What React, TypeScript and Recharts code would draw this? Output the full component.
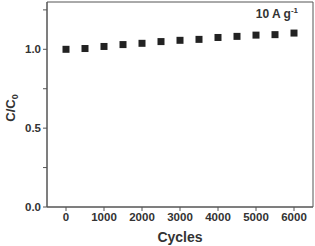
import { ScatterChart, Scatter, XAxis, YAxis, ReferenceArea, Customized } from 'recharts'

const cycles = [0, 500, 1000, 1500, 2000, 2500, 3000, 3500, 4000, 4500, 5000, 5500, 6000]
const retention = [1.0, 1.005, 1.018, 1.03, 1.038, 1.049, 1.057, 1.063, 1.075, 1.082, 1.09, 1.093, 1.103]
const xTicks = [0, 1000, 2000, 3000, 4000, 5000, 6000]
const yTicks = [0, 0.25, 0.5, 0.75, 1.0, 1.25]
const currentLabel = '10 A g'

const data = cycles.map((c, i) => ({ c, r: retention[i] }))

const font = 'Arial, "Liberation Sans", sans-serif'
const ink = '#333'
const axisColor = '#555'

const YTick = (props: any) => {
  const { x, y, payload } = props
  const v = payload.value
  if (Math.abs((v * 2) % 1) > 0.01) return null
  return (
    <text x={x} y={y} dy={4} textAnchor="end" fontFamily={font} fontWeight="bold" fontSize={11.5} fill={ink}>
      {v.toFixed(1)}
    </text>
  )
}

const Square = (props: any) => {
  const { cx, cy } = props
  return <rect x={cx - 3.5} y={cy - 3.5} width={7} height={7} fill="#222" />
}

export default function App() {
  return (
    <div style={{ position: 'absolute', left: 0, top: 0, width: 315, height: 246, background: '#fff' }}>
      <ScatterChart width={315} height={246} margin={{ top: 2, right: 2, bottom: 0, left: 0 }}>
        <XAxis
          type="number"
          dataKey="c"
          domain={[-500, 6500]}
          ticks={xTicks}
          height={39}
          tick={{ fontFamily: font, fontWeight: 'bold', fontSize: 11.5, fill: ink }}
          tickSize={4}
          axisLine={{ stroke: axisColor }}
          tickLine={{ stroke: axisColor }}
          label={{
            value: 'Cycles',
            position: 'insideBottom',
            offset: 4,
            style: { fontFamily: font, fontWeight: 'bold', fontSize: 14, fill: ink },
          }}
        />
        <YAxis
          type="number"
          dataKey="r"
          domain={[0, 1.3]}
          ticks={yTicks}
          width={47}
          tick={<YTick />}
          tickSize={4}
          axisLine={{ stroke: axisColor }}
          tickLine={{ stroke: axisColor }}
          label={{
            content: () => (
              <text
                x={15}
                y={108}
                transform="rotate(-90 15 108)"
                textAnchor="middle"
                fontFamily={font}
                fontWeight="bold"
                fontSize={13}
                fill={ink}
              >
                C/C<tspan fontSize={9} dy={3}>0</tspan>
              </text>
            ),
          }}
        />
        <ReferenceArea
          x1={-500}
          x2={6500}
          y1={0}
          y2={1.3}
          fill="none"
          stroke={axisColor}
          strokeOpacity={1}
          ifOverflow="visible"
        />
        <Scatter data={data} shape={<Square />} isAnimationActive={false} />
        <Customized
          component={() => (
            <text x={298} y={18} textAnchor="end" fontFamily={font} fontWeight="bold" fontSize={12} fill={ink}>
              {currentLabel}
              <tspan fontSize={8} dy={-5}>-1</tspan>
            </text>
          )}
        />
      </ScatterChart>
    </div>
  )
}
